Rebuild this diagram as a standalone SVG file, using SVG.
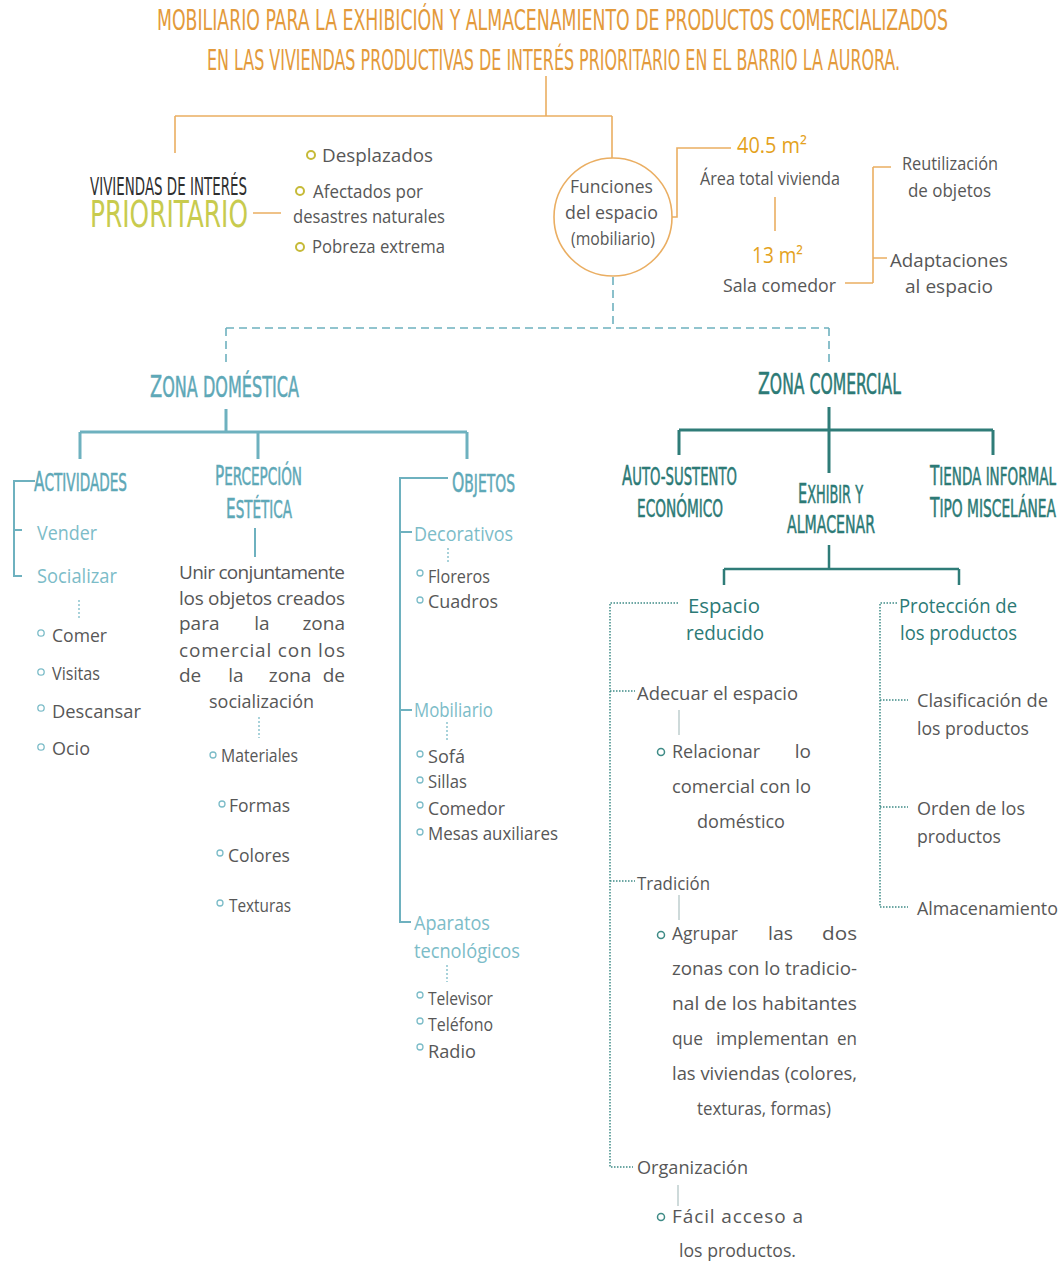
<svg xmlns="http://www.w3.org/2000/svg" width="1063" height="1264" viewBox="0 0 1063 1264">
<style>
text{font-family:"Open Sans","Liberation Sans",sans-serif;fill:#575757;font-size:19px}
.cond{font-family:"Liberation Sans Narrow","DejaVu Sans Condensed","Liberation Sans",sans-serif}
.title{fill:#E39A3B;font-size:28px}
.gold{fill:#E4A21D;font-size:21px}
.prio{fill:#C8CB4E;font-size:38px}
.dark{fill:#2f2f2f;font-size:25px}
.dom{fill:#5EA8B7;font-size:24px;stroke:#5EA8B7;stroke-width:0.5}
.domL{fill:#7CBCC8;font-size:20px}
.com{fill:#2C7A76;font-size:24px;stroke:#2C7A76;stroke-width:0.5}
.comS{fill:#2C7A76;font-size:20px}
.big{font-size:27px}
.zbig{font-size:31px}
.zrest{font-size:28px}
.o-line{fill:none;stroke:#EAAE62;stroke-width:1.6}
.d-line{fill:none;stroke:#6EB1BF;stroke-width:3}
.d-line2{fill:none;stroke:#6EB1BF;stroke-width:2}
.c-line{fill:none;stroke:#2F7C78;stroke-width:3}
.c-line2{fill:none;stroke:#2F7C78;stroke-width:2.5}
.dash{fill:none;stroke:#6EB1BF;stroke-width:1.6;stroke-dasharray:8 5}
.dot{fill:none;stroke:#3E8B86;stroke-width:1.5;stroke-dasharray:1.5 1.5}
.ddot{fill:none;stroke:#8CC3CE;stroke-width:1.5;stroke-dasharray:2 2}
.thin{fill:none;stroke:#9DB5B5;stroke-width:1}
.bo{fill:none;stroke:#C6BA38;stroke-width:2}
.bd{fill:none;stroke:#7CBCC8;stroke-width:1.3}
.bc{fill:none;stroke:#3E8B86;stroke-width:1.5}
</style>

<g id="connectors">
  <path class="o-line" d="M546 76 V116 M175 116 H612 M175 116 V153 M612 116 V158 M253 213 H281 M672 217 H677 V148 H731 M775 197 V231 M845 283 H873 M873 167 V283 M873 167 H891 M873 258 H887"/>
  <path class="dash" d="M613 277 V328 M226 328 H829 M226 328 V362 M829 328 V362"/>
  <path class="d-line" d="M226 409 V432 M80 432 H467 M80 432 V459 M258 432 V459 M467 432 V459"/>
  <path class="d-line2" d="M35 481 H14 V576 H22 M14 530 H22 M255 528 V557 M448 478 H400 V922 H411 M400 532 H412 M400 710 H412"/>
  <path class="ddot" d="M79 600 V619 M259 717 V738 M448 548 V563 M447 722 V742 M447 965 V982"/>
  <path class="c-line" d="M829 407 V473 M679 430 H993 M679 430 V455 M993 430 V455"/>
  <path class="c-line2" d="M829 545 V569 M724 569 H959 M724 569 V585 M959 569 V585"/>
  <path class="dot" d="M678 603 H610 V1167 H633 M610 691 H635 M610 881 H635 M897 603 H880 V907 H908 M880 700 H908 M880 807 H908"/>
  <path class="thin" d="M679 710 V735 M679 895 V920 M678 1185 V1206"/>
</g>

<g id="title">
  <text class="cond title" x="157" y="30" textLength="791" lengthAdjust="spacingAndGlyphs">MOBILIARIO PARA LA EXHIBICIÓN Y ALMACENAMIENTO DE PRODUCTOS COMERCIALIZADOS</text>
  <text class="cond title" x="207" y="70" textLength="693" lengthAdjust="spacingAndGlyphs">EN LAS VIVIENDAS PRODUCTIVAS DE INTERÉS PRIORITARIO EN EL BARRIO LA AURORA.</text>
</g>

<g id="viviendas">
  <text class="cond dark" x="90" y="195" textLength="157" lengthAdjust="spacingAndGlyphs">VIVIENDAS DE INTERÉS</text>
  <text class="cond prio" x="90" y="227" textLength="158" lengthAdjust="spacingAndGlyphs">PRIORITARIO</text>
</g>

<g id="poblacion">
  <circle class="bo" cx="311" cy="155" r="4"/>
  <text x="322" y="162" textLength="111" lengthAdjust="spacingAndGlyphs">Desplazados</text>
  <circle class="bo" cx="300" cy="191" r="4"/>
  <text x="313" y="198" textLength="110" lengthAdjust="spacingAndGlyphs">Afectados por</text>
  <text x="293" y="223" textLength="152" lengthAdjust="spacingAndGlyphs">desastres naturales</text>
  <circle class="bo" cx="300" cy="247" r="4"/>
  <text x="312" y="253" textLength="133" lengthAdjust="spacingAndGlyphs">Pobreza extrema</text>
</g>

<g id="funciones">
  <circle cx="613" cy="217" r="59" fill="#fff" stroke="#EAAE62" stroke-width="1.6"/>
  <text x="570" y="193" textLength="83" lengthAdjust="spacingAndGlyphs">Funciones</text>
  <text x="565" y="219" textLength="93" lengthAdjust="spacingAndGlyphs">del espacio</text>
  <text x="571" y="245" textLength="84" lengthAdjust="spacingAndGlyphs">(mobiliario)</text>
</g>

<g id="area-total">
  <text class="gold" x="737" y="153" textLength="70" lengthAdjust="spacingAndGlyphs">40.5 m²</text>
  <text x="700" y="185" textLength="140" lengthAdjust="spacingAndGlyphs">Área total vivienda</text>
</g>

<g id="sala-comedor">
  <text class="gold" x="752" y="263" textLength="51" lengthAdjust="spacingAndGlyphs">13 m²</text>
  <text x="723" y="292" textLength="113" lengthAdjust="spacingAndGlyphs">Sala comedor</text>
</g>

<g id="reutilizacion">
  <text x="902" y="170" textLength="96" lengthAdjust="spacingAndGlyphs">Reutilización</text>
  <text x="908" y="197" textLength="83" lengthAdjust="spacingAndGlyphs">de objetos</text>
</g>

<g id="adaptaciones">
  <text x="890" y="267" textLength="118" lengthAdjust="spacingAndGlyphs">Adaptaciones</text>
  <text x="905" y="293" textLength="88" lengthAdjust="spacingAndGlyphs">al espacio</text>
</g>

<g id="zona-domestica">
  <text class="cond dom" x="150" y="397" textLength="149" lengthAdjust="spacingAndGlyphs"><tspan class="zbig">Z</tspan><tspan class="zrest">ONA DOMÉSTICA</tspan></text>
</g>

<g id="actividades">
  <text class="cond dom" x="34" y="491" textLength="93" lengthAdjust="spacingAndGlyphs"><tspan class="big">A</tspan>CTIVIDADES</text>
  <text class="domL" x="37" y="540" textLength="60" lengthAdjust="spacingAndGlyphs">Vender</text>
  <text class="domL" x="37" y="583" textLength="80" lengthAdjust="spacingAndGlyphs">Socializar</text>
  <circle class="bd" cx="41" cy="633" r="3.2"/>
  <text x="52" y="642" textLength="55" lengthAdjust="spacingAndGlyphs">Comer</text>
  <circle class="bd" cx="41" cy="672" r="3.2"/>
  <text x="52" y="680" textLength="48" lengthAdjust="spacingAndGlyphs">Visitas</text>
  <circle class="bd" cx="41" cy="708" r="3.2"/>
  <text x="52" y="718" textLength="89" lengthAdjust="spacingAndGlyphs">Descansar</text>
  <circle class="bd" cx="41" cy="747" r="3.2"/>
  <text x="52" y="755" textLength="38" lengthAdjust="spacingAndGlyphs">Ocio</text>
</g>

<g id="percepcion">
  <text class="cond dom" x="215" y="485" textLength="87" lengthAdjust="spacingAndGlyphs"><tspan class="big">P</tspan>ERCEPCIÓN</text>
  <text class="cond dom" x="226" y="518" textLength="66" lengthAdjust="spacingAndGlyphs"><tspan class="big">E</tspan>STÉTICA</text>
  <text x="179" y="579" textLength="166" lengthAdjust="spacing">Unir conjuntamente</text>
  <text x="179" y="605" textLength="166" lengthAdjust="spacing">los objetos creados</text>
  <text x="179" y="630">para</text><text x="262" y="630" text-anchor="middle">la</text><text x="345" y="630" text-anchor="end">zona</text>
  <text x="179" y="657" textLength="166" lengthAdjust="spacing">comercial con los</text>
  <text x="179" y="682">de</text><text x="236" y="682" text-anchor="middle">la</text><text x="290" y="682" text-anchor="middle">zona</text><text x="345" y="682" text-anchor="end">de</text>
  <text x="209" y="708" textLength="105" lengthAdjust="spacingAndGlyphs">socialización</text>
  <circle class="bd" cx="213" cy="755" r="3"/>
  <text x="221" y="762" textLength="77" lengthAdjust="spacingAndGlyphs">Materiales</text>
  <circle class="bd" cx="222" cy="804" r="3"/>
  <text x="229" y="812" textLength="61" lengthAdjust="spacingAndGlyphs">Formas</text>
  <circle class="bd" cx="220" cy="853" r="3"/>
  <text x="228" y="862" textLength="62" lengthAdjust="spacingAndGlyphs">Colores</text>
  <circle class="bd" cx="220" cy="903" r="3"/>
  <text x="229" y="912" textLength="62" lengthAdjust="spacingAndGlyphs">Texturas</text>
</g>

<g id="objetos">
  <text class="cond dom" x="452" y="492" textLength="63" lengthAdjust="spacingAndGlyphs"><tspan class="big">O</tspan>BJETOS</text>
  <text class="domL" x="414" y="541" textLength="99" lengthAdjust="spacingAndGlyphs">Decorativos</text>
  <circle class="bd" cx="420" cy="573" r="3"/>
  <text x="428" y="583" textLength="62" lengthAdjust="spacingAndGlyphs">Floreros</text>
  <circle class="bd" cx="420" cy="600" r="3"/>
  <text x="428" y="608" textLength="70" lengthAdjust="spacingAndGlyphs">Cuadros</text>
  <text class="domL" x="414" y="717" textLength="79" lengthAdjust="spacingAndGlyphs">Mobiliario</text>
  <circle class="bd" cx="420" cy="754" r="3"/>
  <text x="428" y="763" textLength="37" lengthAdjust="spacingAndGlyphs">Sofá</text>
  <circle class="bd" cx="420" cy="780" r="3"/>
  <text x="428" y="788" textLength="39" lengthAdjust="spacingAndGlyphs">Sillas</text>
  <circle class="bd" cx="420" cy="805" r="3"/>
  <text x="428" y="815" textLength="77" lengthAdjust="spacingAndGlyphs">Comedor</text>
  <circle class="bd" cx="420" cy="832" r="3"/>
  <text x="428" y="840" textLength="130" lengthAdjust="spacingAndGlyphs">Mesas auxiliares</text>
  <text class="domL" x="414" y="930" textLength="76" lengthAdjust="spacingAndGlyphs">Aparatos</text>
  <text class="domL" x="414" y="958" textLength="106" lengthAdjust="spacingAndGlyphs">tecnológicos</text>
  <circle class="bd" cx="420" cy="995" r="3"/>
  <text x="428" y="1005" textLength="65" lengthAdjust="spacingAndGlyphs">Televisor</text>
  <circle class="bd" cx="420" cy="1021" r="3"/>
  <text x="428" y="1031" textLength="65" lengthAdjust="spacingAndGlyphs">Teléfono</text>
  <circle class="bd" cx="420" cy="1047" r="3"/>
  <text x="428" y="1058" textLength="48" lengthAdjust="spacingAndGlyphs">Radio</text>
</g>

<g id="zona-comercial">
  <text class="cond com" x="758" y="394" textLength="143" lengthAdjust="spacingAndGlyphs"><tspan class="zbig">Z</tspan><tspan class="zrest">ONA COMERCIAL</tspan></text>
</g>

<g id="auto-sustento">
  <text class="cond com" x="622" y="485" textLength="115" lengthAdjust="spacingAndGlyphs"><tspan class="big">A</tspan>UTO-SUSTENTO</text>
  <text class="cond com" x="637" y="517" textLength="86" lengthAdjust="spacingAndGlyphs">ECONÓMICO</text>
</g>

<g id="exhibir">
  <text class="cond com" x="798" y="503" textLength="65" lengthAdjust="spacingAndGlyphs"><tspan class="big">E</tspan>XHIBIR Y</text>
  <text class="cond com" x="787" y="533" textLength="88" lengthAdjust="spacingAndGlyphs">ALMACENAR</text>
</g>

<g id="tienda">
  <text class="cond com" x="930" y="485" textLength="126" lengthAdjust="spacingAndGlyphs"><tspan class="big">T</tspan>IENDA INFORMAL</text>
  <text class="cond com" x="930" y="517" textLength="126" lengthAdjust="spacingAndGlyphs"><tspan class="big">T</tspan>IPO MISCELÁNEA</text>
</g>

<g id="espacio-reducido">
  <text class="comS" x="688" y="613" textLength="72" lengthAdjust="spacingAndGlyphs">Espacio</text>
  <text class="comS" x="686" y="640" textLength="78" lengthAdjust="spacingAndGlyphs">reducido</text>
</g>

<g id="adecuar">
  <text x="637" y="700" textLength="161" lengthAdjust="spacingAndGlyphs">Adecuar el espacio</text>
  <circle class="bc" cx="661" cy="752" r="3.5"/>
  <text x="672" y="758" textLength="88" lengthAdjust="spacingAndGlyphs">Relacionar</text><text x="811" y="758" text-anchor="end">lo</text>
  <text x="672" y="793" textLength="139" lengthAdjust="spacingAndGlyphs">comercial con lo</text>
  <text x="697" y="828" textLength="88" lengthAdjust="spacingAndGlyphs">doméstico</text>
</g>

<g id="tradicion">
  <text x="637" y="890" textLength="73" lengthAdjust="spacingAndGlyphs">Tradición</text>
  <circle class="bc" cx="661" cy="935" r="3.5"/>
  <text x="672" y="940" textLength="66" lengthAdjust="spacingAndGlyphs">Agrupar</text><text x="768" y="940" textLength="25" lengthAdjust="spacingAndGlyphs">las</text><text x="822" y="940" textLength="35" lengthAdjust="spacingAndGlyphs">dos</text>
  <text x="672" y="975" textLength="185" lengthAdjust="spacingAndGlyphs">zonas con lo tradicio-</text>
  <text x="672" y="1010" textLength="185" lengthAdjust="spacingAndGlyphs">nal de los habitantes</text>
  <text x="672" y="1045" textLength="31" lengthAdjust="spacingAndGlyphs">que</text><text x="716" y="1045" textLength="113" lengthAdjust="spacingAndGlyphs">implementan</text><text x="837" y="1045" textLength="20" lengthAdjust="spacingAndGlyphs">en</text>
  <text x="672" y="1080" textLength="185" lengthAdjust="spacingAndGlyphs">las viviendas (colores,</text>
  <text x="697" y="1115" textLength="134" lengthAdjust="spacingAndGlyphs">texturas, formas)</text>
</g>

<g id="organizacion">
  <text x="637" y="1174" textLength="111" lengthAdjust="spacingAndGlyphs">Organización</text>
  <circle class="bc" cx="661" cy="1217" r="3.5"/>
  <text x="672" y="1223" textLength="131" lengthAdjust="spacing">Fácil acceso a</text>
  <text x="679" y="1257" textLength="117" lengthAdjust="spacingAndGlyphs">los productos.</text>
</g>

<g id="proteccion">
  <text class="comS" x="899" y="613" textLength="118" lengthAdjust="spacingAndGlyphs">Protección de</text>
  <text class="comS" x="900" y="640" textLength="117" lengthAdjust="spacingAndGlyphs">los productos</text>
</g>

<g id="clasificacion">
  <text x="917" y="707" textLength="131" lengthAdjust="spacingAndGlyphs">Clasificación de</text>
  <text x="917" y="735" textLength="112" lengthAdjust="spacingAndGlyphs">los productos</text>
</g>

<g id="orden">
  <text x="917" y="815" textLength="108" lengthAdjust="spacingAndGlyphs">Orden de los</text>
  <text x="917" y="843" textLength="84" lengthAdjust="spacingAndGlyphs">productos</text>
</g>

<g id="almacenamiento">
  <text x="917" y="915" textLength="141" lengthAdjust="spacingAndGlyphs">Almacenamiento</text>
</g>
</svg>
